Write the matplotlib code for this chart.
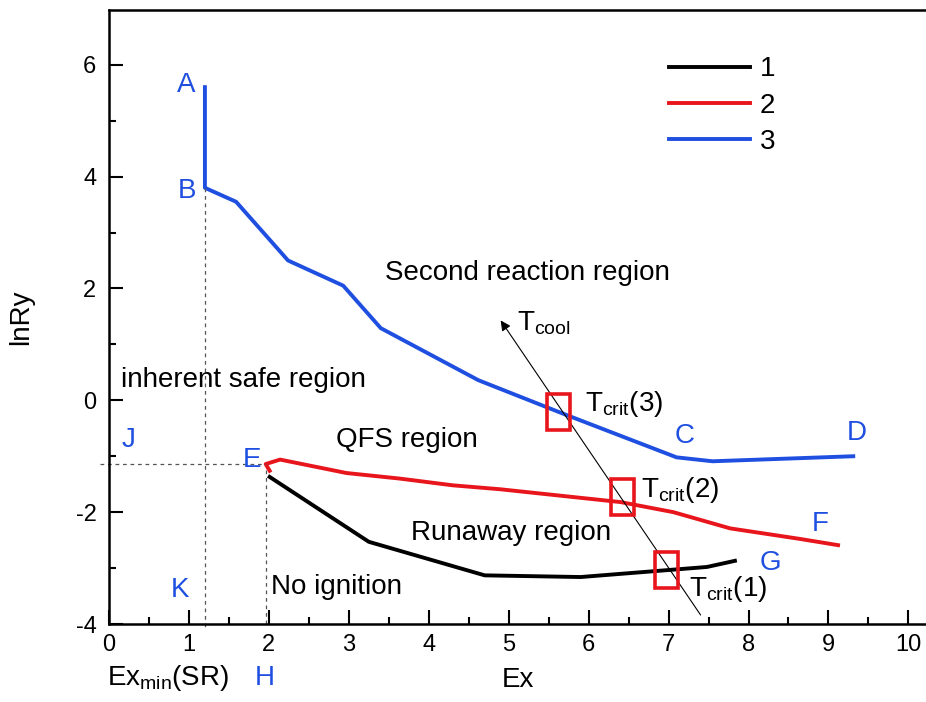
import matplotlib
matplotlib.use("Agg")
import matplotlib.pyplot as plt
from matplotlib.patches import Rectangle
from matplotlib.ticker import MultipleLocator

plt.rcParams['font.family'] = ['Liberation Sans', 'DejaVu Sans']
plt.rcParams['mathtext.fontset'] = 'custom'
plt.rcParams['mathtext.rm'] = 'Liberation Sans'
plt.rcParams['mathtext.it'] = 'Liberation Sans:italic'
plt.rcParams['axes.unicode_minus'] = False

# curve 1 (black), 2 (red), 3 (blue)
ex1 = [2.01, 3.25, 4.70, 5.90, 7.48, 7.83]
lnry1 = [-1.37, -2.53, -3.13, -3.16, -2.98, -2.87]

ex2 = [2.01, 1.96, 2.14, 2.97, 3.64, 4.30, 4.89, 6.40, 7.06, 7.77, 8.65, 9.12]
lnry2 = [-1.26, -1.14, -1.06, -1.30, -1.40, -1.52, -1.59, -1.82, -2.00, -2.29, -2.48, -2.59]

ex3 = [1.20, 1.20, 1.59, 2.24, 2.93, 3.40, 4.62, 5.70, 7.10, 7.55, 9.31]
lnry3 = [5.60, 3.80, 3.55, 2.50, 2.05, 1.29, 0.36, -0.25, -1.02, -1.09, -1.00]

# critical points (red boxes) and their label anchors
crit_x = [6.97, 6.42, 5.62]
crit_y = [-3.04, -1.73, -0.21]
crit_text = [r'T$_{\mathrm{crit}}$(1)', r'T$_{\mathrm{crit}}$(2)', r'T$_{\mathrm{crit}}$(3)']
crit_text_xy = [(7.25, -3.37), (6.66, -1.61), (5.95, -0.07)]

blue = '#1f4fe0'
red = '#e8161c'
fs = 20

fig = plt.figure(figsize=(9.26, 7.02), dpi=100)
ax = fig.add_axes([0.1177, 0.1111, 0.8823, 0.8747])

ax.plot(ex1, lnry1, color='black', lw=2.8, label='1', solid_joinstyle='round')
ax.plot(ex2, lnry2, color=red, lw=2.8, label='2', solid_joinstyle='round')
ax.plot(ex3, lnry3, color=blue, lw=2.8, label='3', solid_joinstyle='round')

# dashed guide lines
ax.plot([1.2, 1.2], [3.8, -4.1], color='#555555', lw=0.9, clip_on=False, dashes=(3, 3))
ax.plot([-0.11, 1.96], [-1.14, -1.14], color='#555555', lw=0.9, clip_on=False, dashes=(3, 3))
ax.plot([1.96, 1.96], [-1.25, -4.0], color='#555555', lw=0.9, dashes=(3, 3))

# T_cool arrow
ax.annotate('', xy=(4.88, 1.47), xytext=(7.42, -3.88),
            arrowprops=dict(arrowstyle='-|>', color='black', lw=0.8, mutation_scale=15))
ax.text(5.1, 1.37, r'T$_{\mathrm{cool}}$', fontsize=fs, va='center')

bw, bh = 0.29, 0.64
for cx, cy, txt, (tx, ty) in zip(crit_x, crit_y, crit_text, crit_text_xy):
    ax.add_patch(Rectangle((cx - bw / 2, cy - bh / 2), bw, bh, fill=False,
                           edgecolor=red, lw=2.6, zorder=5))
    ax.text(tx, ty, txt, fontsize=fs, va='center')

# region labels
ax.text(5.24, 2.27, 'Second reaction region', fontsize=fs, ha='center', va='center')
ax.text(1.68, 0.37, 'inherent safe region', fontsize=fs, ha='center', va='center')
ax.text(3.73, -0.71, 'QFS region', fontsize=fs, ha='center', va='center')
ax.text(5.03, -2.38, 'Runaway region', fontsize=fs, ha='center', va='center')
ax.text(2.84, -3.34, 'No ignition', fontsize=fs, ha='center', va='center')

# point letters
pts = {'A': (0.97, 5.63), 'B': (0.97, 3.75), 'C': (7.2, -0.63), 'D': (9.35, -0.59),
       'E': (1.79, -1.07), 'F': (8.9, -2.21), 'G': (8.27, -2.91), 'J': (0.24, -0.71),
       'K': (0.89, -3.39), 'H': (1.95, -4.96)}
for name, (px, py) in pts.items():
    ax.text(px, py, name, color=blue, fontsize=fs, ha='center', va='center', clip_on=False)

ax.text(0.74, -4.96, r'Ex$_{\mathrm{min}}$(SR)', fontsize=fs, ha='center', va='center')

ax.set_xlim(0, 10.22)
ax.set_ylim(-4, 6.98)
ax.xaxis.set_major_locator(MultipleLocator(1))
ax.xaxis.set_minor_locator(MultipleLocator(0.5))
ax.yaxis.set_major_locator(MultipleLocator(2))
ax.yaxis.set_minor_locator(MultipleLocator(1))
ax.tick_params(which='both', direction='in', labelsize=17, width=1.5)
ax.tick_params(which='major', length=10)
ax.tick_params(which='minor', length=5)
ax.tick_params(axis='x', pad=7)
ax.tick_params(axis='y', pad=9)
ax.spines['right'].set_visible(False)
for s in ['left', 'bottom', 'top']:
    ax.spines[s].set_linewidth(1.8)

ax.set_xlabel('Ex', fontsize=fs, labelpad=8)
ax.set_ylabel('lnRy', fontsize=fs, labelpad=30)

ax.legend(loc='upper left', bbox_to_anchor=(0.655, 0.965), frameon=False, fontsize=fs,
          handlelength=2.9, handletextpad=0.35, labelspacing=0.37)

fig.savefig('out.png', dpi=100)
